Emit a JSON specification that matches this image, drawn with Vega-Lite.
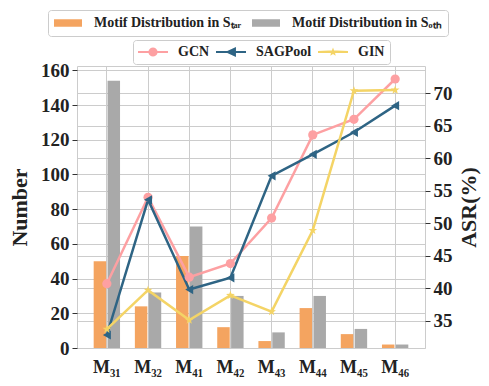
{
  "$schema": "https://vega.github.io/schema/vega-lite/v6.json",
  "width": 348,
  "height": 282,
  "autosize": {"type": "none"},
  "padding": {"left": 77, "top": 66, "right": 64, "bottom": 38},
  "background": "white",
  "config": {
    "font": "Liberation Serif",
    "view": {"stroke": "#cccccc", "strokeWidth": 1},
    "axis": {
      "labelFont": "Liberation Serif",
      "labelFontWeight": "bold",
      "labelFontSize": 19,
      "labelColor": "#222222",
      "titleFont": "Liberation Serif",
      "titleFontWeight": "bold",
      "titleFontSize": 22,
      "titleColor": "#222222",
      "gridColor": "#cccccc",
      "gridWidth": 1,
      "domain": false,
      "tickColor": "#333333",
      "tickSize": 5
    },
    "legend": {
      "labelFont": "Liberation Serif",
      "labelFontWeight": "bold",
      "labelFontSize": 14,
      "labelColor": "#222222",
      "labelLimit": 400
    }
  },
  "layer": [
    {
      "data": {
        "values": [
          {"motif": "M₃₁", "set": "Motif Distribution in Sₜₐᵣ", "count": 50},
          {"motif": "M₃₁", "set": "Motif Distribution in Sₒₜₕ", "count": 154},
          {"motif": "M₃₂", "set": "Motif Distribution in Sₜₐᵣ", "count": 24},
          {"motif": "M₃₂", "set": "Motif Distribution in Sₒₜₕ", "count": 32},
          {"motif": "M₄₁", "set": "Motif Distribution in Sₜₐᵣ", "count": 53},
          {"motif": "M₄₁", "set": "Motif Distribution in Sₒₜₕ", "count": 70},
          {"motif": "M₄₂", "set": "Motif Distribution in Sₜₐᵣ", "count": 12},
          {"motif": "M₄₂", "set": "Motif Distribution in Sₒₜₕ", "count": 30},
          {"motif": "M₄₃", "set": "Motif Distribution in Sₜₐᵣ", "count": 4},
          {"motif": "M₄₃", "set": "Motif Distribution in Sₒₜₕ", "count": 9},
          {"motif": "M₄₄", "set": "Motif Distribution in Sₜₐᵣ", "count": 23},
          {"motif": "M₄₄", "set": "Motif Distribution in Sₒₜₕ", "count": 30},
          {"motif": "M₄₅", "set": "Motif Distribution in Sₜₐᵣ", "count": 8},
          {"motif": "M₄₅", "set": "Motif Distribution in Sₒₜₕ", "count": 11},
          {"motif": "M₄₆", "set": "Motif Distribution in Sₜₐᵣ", "count": 2},
          {"motif": "M₄₆", "set": "Motif Distribution in Sₒₜₕ", "count": 2}
        ]
      },
      "mark": {"type": "bar"},
      "encoding": {
        "x": {
          "field": "motif",
          "type": "nominal",
          "scale": {"domain": ["M₃₁", "M₃₂", "M₄₁", "M₄₂", "M₄₃", "M₄₄", "M₄₅", "M₄₆"], "paddingInner": 0.36, "paddingOuter": 0.405},
          "axis": {"title": null, "labelAngle": 0, "ticks": false, "tickSize": 0, "labelPadding": 10, "labelFontSize": 18, "grid": true}
        },
        "xOffset": {
          "field": "set",
          "type": "nominal",
          "scale": {"domain": ["Motif Distribution in Sₜₐᵣ", "Motif Distribution in Sₒₜₕ"], "paddingInner": 0.1}
        },
        "y": {
          "field": "count",
          "type": "quantitative",
          "scale": {"domain": [0, 162.5], "nice": false},
          "axis": {"orient": "left", "title": "Number", "values": [0, 20, 40, 60, 80, 100, 120, 140, 160], "titlePadding": 9, "labelPadding": 3, "grid": true}
        },
        "fill": {
          "field": "set",
          "type": "nominal",
          "scale": {"domain": ["Motif Distribution in Sₜₐᵣ", "Motif Distribution in Sₒₜₕ"], "range": ["#F4A460", "#A9A9A9"]},
          "legend": {
            "title": null,
            "orient": "none",
            "legendX": -29,
            "legendY": -56,
            "direction": "horizontal",
            "symbolType": "M-1,-0.27H1V0.27H-1Z",
            "symbolSize": 784,
            "symbolStrokeWidth": 0,
            "clipHeight": 14,
            "labelOffset": 12,
            "columnPadding": 10,
            "padding": 6,
            "strokeColor": "#cccccc",
            "fillColor": "white",
            "cornerRadius": 3
          }
        }
      }
    },
    {
      "data": {
        "values": [
          {"motif": "M₃₁", "model": "GCN", "asr": 40.7},
          {"motif": "M₃₂", "model": "GCN", "asr": 54.0},
          {"motif": "M₄₁", "model": "GCN", "asr": 41.7},
          {"motif": "M₄₂", "model": "GCN", "asr": 43.8},
          {"motif": "M₄₃", "model": "GCN", "asr": 50.8},
          {"motif": "M₄₄", "model": "GCN", "asr": 63.6},
          {"motif": "M₄₅", "model": "GCN", "asr": 66.0},
          {"motif": "M₄₆", "model": "GCN", "asr": 72.2},
          {"motif": "M₃₁", "model": "SAGPool", "asr": 32.8},
          {"motif": "M₃₂", "model": "SAGPool", "asr": 53.6},
          {"motif": "M₄₁", "model": "SAGPool", "asr": 39.8},
          {"motif": "M₄₂", "model": "SAGPool", "asr": 41.6},
          {"motif": "M₄₃", "model": "SAGPool", "asr": 57.3},
          {"motif": "M₄₄", "model": "SAGPool", "asr": 60.6},
          {"motif": "M₄₅", "model": "SAGPool", "asr": 64.0},
          {"motif": "M₄₆", "model": "SAGPool", "asr": 68.1},
          {"motif": "M₃₁", "model": "GIN", "asr": 33.7},
          {"motif": "M₃₂", "model": "GIN", "asr": 39.7},
          {"motif": "M₄₁", "model": "GIN", "asr": 35.1},
          {"motif": "M₄₂", "model": "GIN", "asr": 38.9},
          {"motif": "M₄₃", "model": "GIN", "asr": 36.4},
          {"motif": "M₄₄", "model": "GIN", "asr": 48.9},
          {"motif": "M₄₅", "model": "GIN", "asr": 70.4},
          {"motif": "M₄₆", "model": "GIN", "asr": 70.5}
        ]
      },
      "encoding": {
        "x": {"field": "motif", "type": "nominal"},
        "y": {
          "field": "asr",
          "type": "quantitative",
          "scale": {"domain": [30.8, 74.2], "nice": false, "zero": false},
          "axis": {"orient": "right", "title": "ASR(%)", "titleAngle": 270, "titleBaseline": "top", "titleAlign": "center", "values": [35, 40, 45, 50, 55, 60, 65, 70], "titlePadding": 6, "labelPadding": 3, "grid": true}
        },
        "color": {
          "field": "model",
          "type": "nominal",
          "scale": {"domain": ["GCN", "SAGPool", "GIN"], "range": ["#FDA0A2", "#2E6484", "#F4D466"]},
          "legend": {
            "title": null,
            "orient": "none",
            "legendX": 56,
            "legendY": -26,
            "direction": "horizontal",
            "symbolSize": 900,
            "symbolStrokeWidth": 0,
            "clipHeight": 14,
            "labelOffset": 10,
            "columnPadding": 6,
            "padding": 5,
            "strokeColor": "#cccccc",
            "fillColor": "white",
            "cornerRadius": 3,
            "encode": {
              "symbols": {
                "update": {
                  "shape": {"signal": "datum.value === 'GCN' ? 'M-1,-0.07L-0.3,-0.07A0.308,0.308 0 0,1 0.3,-0.07L1,-0.07L1,0.07L0.3,0.07A0.308,0.308 0 0,1 -0.3,0.07L-1,0.07Z' : datum.value === 'SAGPool' ? 'M-1,-0.07L-0.245,-0.07L0.33,-0.33L0.33,-0.07L1,-0.07L1,0.07L0.33,0.07L0.33,0.33L-0.245,0.07L-1,0.07Z' : 'M-1,-0.07L-0.285,-0.093L-0.076,-0.105L0,-0.3L0.076,-0.105L0.285,-0.093L1,-0.07L1,0.07L0.14,0.07L0.176,0.243L0,0.13L-0.176,0.243L-0.14,0.07L-1,0.07Z'"},
                  "size": {"value": 900},
                  "fill": {"signal": "scale('color', datum.value)"},
                  "stroke": {"value": "transparent"},
                  "strokeWidth": {"value": 0},
                  "opacity": {"value": 1},
                  "fillOpacity": {"value": 1}
                }
              }
            }
          }
        }
      },
      "layer": [
        {"mark": {"type": "line", "strokeWidth": 2.5}},
        {
          "transform": [{"filter": "datum.model === 'GCN'"}],
          "mark": {"type": "point", "shape": "circle", "filled": true, "opacity": 1, "size": 85}
        },
        {
          "transform": [{"filter": "datum.model === 'SAGPool'"}],
          "mark": {"type": "point", "shape": "triangle-left", "filled": true, "opacity": 1, "size": 85}
        },
        {
          "transform": [{"filter": "datum.model === 'GIN'"}],
          "mark": {"type": "point", "shape": "M0,-1L0.235,-0.324L0.951,-0.309L0.38,0.124L0.588,0.809L0,0.4L-0.588,0.809L-0.38,0.124L-0.951,-0.309L-0.235,-0.324Z", "filled": true, "opacity": 1, "size": 85}
        }
      ]
    }
  ],
  "resolve": {"scale": {"y": "independent"}}
}
